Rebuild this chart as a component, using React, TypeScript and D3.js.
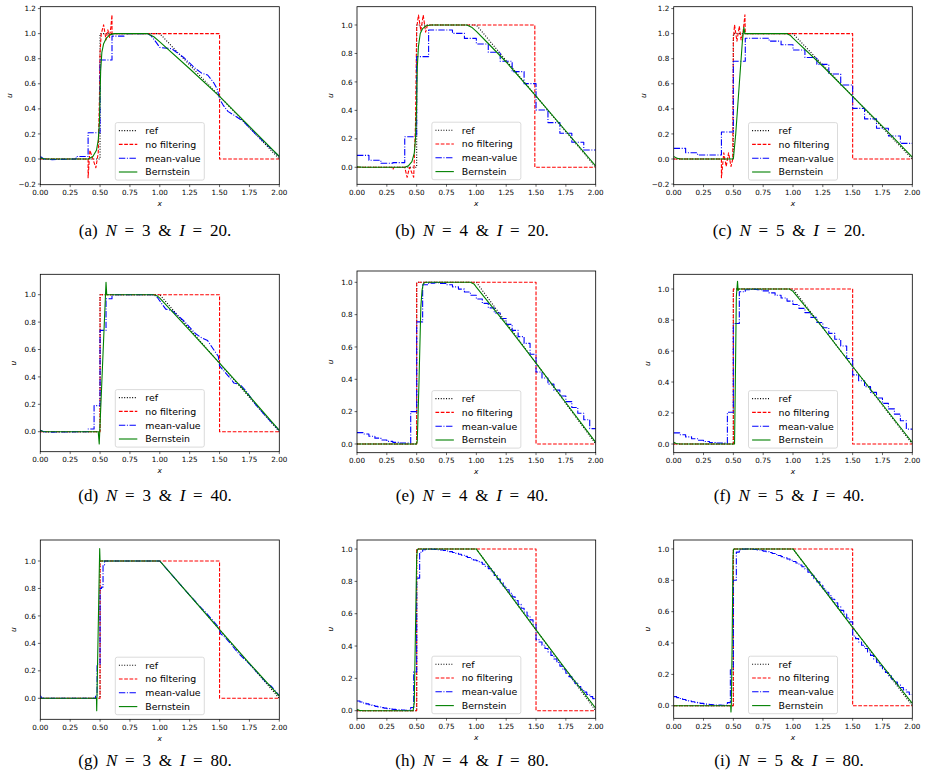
import React from "react";
import * as d3 from "d3";

type Pt = [number, number];

// Reference solution, shared by every panel
const refSolution: Pt[] = [[0, 0], [0.5, 0], [0.5, 1], [1.0, 1], [2.0, 0]];

// Unfiltered DG solutions
const noFilterA: Pt[] = [[0, 0], [0.40, 0], [0.40, -0.15], [0.415, 0.07], [0.44, 0.0], [0.465, -0.07], [0.485, 0.05], [0.495, 0.5], [0.50, 0.85], [0.51, 1.0], [0.53, 1.07], [0.55, 0.95], [0.565, 1.03], [0.58, 0.97], [0.59, 1.05], [0.60, 1.15], [0.60, 1.0], [1.50, 1.0], [1.50, 0], [2.0, 0]];
const noFilterB: Pt[] = [[0, 0], [0.29, 0], [0.30, -0.015], [0.31, 0], [0.40, 0], [0.42, -0.07], [0.44, 0.0], [0.475, -0.07], [0.49, 0.3], [0.50, 0.98], [0.515, 1.07], [0.535, 0.96], [0.555, 1.07], [0.575, 0.95], [0.59, 1.0], [1.49, 1.0], [1.49, 0], [2.0, 0]];
const noFilterC: Pt[] = [[0, 0], [0.40, 0], [0.40, -0.15], [0.42, 0.05], [0.44, -0.06], [0.46, 0.05], [0.48, -0.06], [0.495, 0.0], [0.50, 0.95], [0.51, 1.07], [0.53, 0.94], [0.55, 1.06], [0.565, 0.95], [0.58, 1.0], [0.597, 1.15], [0.60, 1.0], [1.50, 1.0], [1.50, 0], [2.0, 0]];
const noFilterSharp: Pt[] = [[0, 0], [0.5, 0], [0.5, 1], [1.5, 1], [1.5, 0], [2.0, 0]];

// Mean-value filtered solutions (N = 3 as point traces)
const meanValueA: Pt[] = [[0, 0.02], [0.03, 0.0], [0.1, -0.005], [0.3, 0.0], [0.3, 0.02], [0.4, 0.02], [0.4, 0.21], [0.5, 0.21], [0.5, 0.79], [0.6, 0.79], [0.6, 0.98], [0.7, 0.98], [0.7, 1.0], [0.9, 1.0], [0.93, 0.98], [0.97, 0.93], [1.0, 0.89], [1.1, 0.88], [1.2, 0.81], [1.3, 0.72], [1.35, 0.685], [1.4, 0.67], [1.45, 0.61], [1.48, 0.56], [1.5, 0.48], [1.53, 0.43], [1.57, 0.38], [1.62, 0.35], [1.7, 0.30], [1.8, 0.20], [1.9, 0.11], [2.0, 0.02]];
const meanValueD: Pt[] = [[0, 0.01], [0.03, 0.0], [0.1, -0.003], [0.4, 0.0], [0.4, 0.02], [0.45, 0.02], [0.45, 0.19], [0.5, 0.19], [0.5, 0.74], [0.55, 0.74], [0.55, 0.97], [0.6, 0.97], [0.6, 1.0], [0.95, 1.0], [0.98, 0.98], [1.02, 0.93], [1.05, 0.895], [1.1, 0.885], [1.2, 0.81], [1.3, 0.715], [1.35, 0.685], [1.4, 0.665], [1.45, 0.6], [1.49, 0.55], [1.5, 0.48], [1.55, 0.43], [1.6, 0.38], [1.62, 0.355], [1.67, 0.345], [1.72, 0.30], [1.8, 0.20], [1.9, 0.10], [2.0, 0.01]];
const meanValueG: Pt[] = [[0, 0.02], [0.015, 0.0], [0.4625, 0.0], [0.4625, 0.02], [0.475, 0.02], [0.475, 0.25], [0.5, 0.25], [0.5, 0.80], [0.5125, 0.80], [0.5125, 0.81], [0.525, 0.81], [0.525, 0.97], [0.5375, 0.97], [0.5375, 1.0], [1.0, 1.0], [1.2, 0.80], [1.35, 0.655], [1.38, 0.63], [1.45, 0.56], [1.49, 0.52], [1.51, 0.47], [1.55, 0.44], [1.6, 0.39], [1.65, 0.335], [1.75, 0.25], [1.85, 0.155], [1.9, 0.105], [1.93, 0.09], [2.0, 0.02]];

// Mean-value filtered solutions (N = 4, 5 as cell averages over [0, 2])
const meanValueB = [0.084, 0.049, 0.028, 0.033, 0.215, 0.778, 0.965, 0.965, 0.941, 0.906, 0.867, 0.808, 0.745, 0.672, 0.588, 0.403, 0.314, 0.239, 0.176, 0.122];
const meanValueC = [0.085, 0.050, 0.032, 0.032, 0.215, 0.780, 0.963, 0.963, 0.940, 0.912, 0.870, 0.810, 0.755, 0.678, 0.590, 0.404, 0.320, 0.245, 0.183, 0.125];
const meanValueE = [0.070, 0.062, 0.048, 0.036, 0.025, 0.016, 0.010, 0.006, 0.006, 0.200, 0.755, 0.985, 0.995, 0.998, 0.993, 0.985, 0.972, 0.958, 0.940, 0.920, 0.897, 0.870, 0.842, 0.810, 0.776, 0.740, 0.703, 0.664, 0.622, 0.555, 0.445, 0.408, 0.370, 0.333, 0.297, 0.262, 0.226, 0.190, 0.150, 0.095];
const meanValueF = [0.072, 0.060, 0.046, 0.034, 0.024, 0.016, 0.010, 0.007, 0.006, 0.205, 0.778, 0.982, 0.995, 0.998, 0.995, 0.988, 0.975, 0.960, 0.942, 0.922, 0.900, 0.875, 0.848, 0.817, 0.784, 0.750, 0.714, 0.676, 0.632, 0.552, 0.446, 0.408, 0.370, 0.333, 0.297, 0.262, 0.227, 0.193, 0.150, 0.096];
const meanValueH = [
  0.060, 0.054, 0.048, 0.042, 0.037, 0.032, 0.027, 0.023, 0.019, 0.016, 0.013, 0.010, 0.008, 0.006, 0.005, 0.004, 0.003, 0.003,
  0.020, 0.240, 0.820, 0.980, 0.996,
  0.999, 1.000, 0.999, 0.998, 0.996, 0.994, 0.991, 0.988, 0.984, 0.979, 0.974, 0.968, 0.962, 0.955, 0.948, 0.940, 0.932,
  0.928, 0.918, 0.906, 0.893, 0.879, 0.858, 0.836, 0.814, 0.792, 0.770, 0.748, 0.726, 0.704, 0.681, 0.658, 0.634, 0.610, 0.586, 0.562, 0.535,
  0.440, 0.425, 0.405, 0.385, 0.364, 0.342, 0.320, 0.298, 0.276, 0.254, 0.232, 0.211, 0.190, 0.170, 0.150, 0.132, 0.115, 0.100, 0.087, 0.075,
];
const meanValueI = [
  0.058, 0.052, 0.046, 0.040, 0.035, 0.030, 0.026, 0.022, 0.018, 0.015, 0.012, 0.010, 0.008, 0.006, 0.005, 0.004, 0.003, 0.003,
  0.020, 0.230, 0.800, 0.980, 0.995,
  0.999, 1.000, 0.999, 0.998, 0.996, 0.993, 0.990, 0.986, 0.982, 0.977, 0.971, 0.965, 0.958, 0.951, 0.944, 0.936, 0.928,
  0.920, 0.910, 0.898, 0.886, 0.872, 0.852, 0.832, 0.811, 0.790, 0.768, 0.746, 0.724, 0.702, 0.679, 0.656, 0.632, 0.608, 0.584, 0.560, 0.535,
  0.445, 0.428, 0.407, 0.386, 0.365, 0.343, 0.321, 0.299, 0.277, 0.255, 0.233, 0.212, 0.191, 0.171, 0.151, 0.133, 0.116, 0.101, 0.088, 0.072,
];

// Bernstein filtered solutions
const bernsteinA: Pt[] = [[0, 0.01], [0.02, 0.003], [0.05, 0], [0.40, 0], [0.44, 0.02], [0.47, 0.07], [0.485, 0.15], [0.495, 0.3], [0.50, 0.5], [0.505, 0.7], [0.515, 0.85], [0.53, 0.92], [0.55, 0.96], [0.58, 0.99], [0.62, 1.0], [0.90, 1.0], [0.95, 0.975], [1.0, 0.935], [1.25, 0.72], [1.5, 0.5], [1.75, 0.26], [2.0, 0.02]];
const bernsteinB: Pt[] = [[0, 0.003], [0.05, 0], [0.40, 0], [0.43, 0.01], [0.46, 0.04], [0.48, 0.1], [0.49, 0.2], [0.50, 0.45], [0.505, 0.7], [0.515, 0.85], [0.53, 0.94], [0.55, 0.975], [0.58, 0.995], [0.62, 1.0], [0.92, 1.0], [0.96, 0.985], [1.0, 0.955], [1.1, 0.87], [1.25, 0.74], [1.5, 0.5], [1.75, 0.255], [2.0, 0.01]];
const bernsteinC: Pt[] = [[0, 0.02], [0.03, 0.005], [0.06, 0], [0.50, 0], [0.52, 0.2], [0.55, 0.6], [0.575, 0.93], [0.588, 1.05], [0.597, 1.0], [0.95, 1.0], [0.98, 0.985], [1.0, 0.965], [1.25, 0.74], [1.5, 0.5], [1.75, 0.26], [2.0, 0.015]];
const bernsteinD: Pt[] = [[0, 0.01], [0.02, 0.002], [0.05, 0], [0.485, 0], [0.493, -0.09], [0.55, 1.09], [0.556, 1.0], [0.95, 1.0], [0.98, 0.99], [1.0, 0.975], [1.25, 0.74], [1.5, 0.5], [1.75, 0.26], [2.0, 0.01]];
const bernsteinE: Pt[] = [[0, 0], [0.50, 0], [0.505, 0.02], [0.51, 0.14], [0.52, 0.4], [0.535, 0.85], [0.545, 0.95], [0.555, 0.99], [0.57, 1.0], [0.95, 1.0], [0.98, 0.99], [1.0, 0.97], [1.25, 0.74], [1.5, 0.5], [1.75, 0.255], [2.0, 0.01]];
const bernsteinF: Pt[] = [[0, 0.012], [0.02, 0.003], [0.05, 0], [0.51, 0], [0.515, 0.3], [0.525, 0.95], [0.535, 1.05], [0.54, 0.99], [0.545, 1.0], [0.97, 1.0], [0.99, 0.99], [1.0, 0.985], [1.25, 0.75], [1.5, 0.5], [1.75, 0.255], [2.0, 0.01]];
const bernsteinG: Pt[] = [[0, 0], [0.47, 0], [0.472, -0.09], [0.497, 1.09], [0.50, 1.0], [1.0, 1.0], [1.25, 0.75], [1.5, 0.5], [1.75, 0.255], [2.0, 0.015]];
const bernsteinH: Pt[] = [[0, 0.008], [0.02, 0.002], [0.05, 0], [0.47, 0], [0.48, 0.05], [0.49, 0.5], [0.50, 0.95], [0.505, 0.99], [0.51, 1.0], [1.0, 1.0], [1.25, 0.75], [1.5, 0.5], [1.75, 0.255], [2.0, 0.015]];
const bernsteinI: Pt[] = [[0, 0], [0.478, 0], [0.48, -0.04], [0.483, 0], [0.49, 0.4], [0.497, 0.95], [0.502, 1.0], [1.0, 1.0], [1.25, 0.75], [1.5, 0.5], [1.75, 0.255], [2.0, 0.015]];

// Axis ticks
const xTickValues = [0, 0.25, 0.5, 0.75, 1.0, 1.25, 1.5, 1.75, 2.0];
const yTickValues = [-0.2, 0, 0.2, 0.4, 0.6, 0.8, 1.0, 1.2];

// Legend labels
const seriesLabels = ["ref", "no filtering", "mean-value", "Bernstein"];

// Subfigure parameters
const tags = ["a", "b", "c", "d", "e", "f", "g", "h", "i"];
const orders = [3, 4, 5, 3, 4, 5, 3, 4, 5];
const cellCounts = [20, 20, 20, 40, 40, 40, 80, 80, 80];
const yLimits: Pt[] = [
  [-0.205, 1.215], [-0.1195, 1.1286], [-0.205, 1.215],
  [-0.146, 1.149], [-0.054, 1.07], [-0.056, 1.095],
  [-0.153, 1.153], [-0.047, 1.056], [-0.08, 1.057],
];
const noFilterSeries = [noFilterA, noFilterB, noFilterC, noFilterSharp, noFilterSharp, noFilterSharp, noFilterSharp, noFilterSharp, noFilterSharp];
const meanValueSeries: (Pt[] | number[])[] = [meanValueA, meanValueB, meanValueC, meanValueD, meanValueE, meanValueF, meanValueG, meanValueH, meanValueI];
const bernsteinSeries = [bernsteinA, bernsteinB, bernsteinC, bernsteinD, bernsteinE, bernsteinF, bernsteinG, bernsteinH, bernsteinI];

// Axes boxes on the page (left, right, top, bottom)
const axesBoxes = [
  { l: 40.3, r: 279.3, t: 6.7, b: 184.7 },
  { l: 357, r: 595.7, t: 6.7, b: 184.3 },
  { l: 673.7, r: 912.3, t: 6.7, b: 184.7 },
  { l: 40.3, r: 279.3, t: 274.3, b: 451.7 },
  { l: 357, r: 595.7, t: 271, b: 452.7 },
  { l: 673.7, r: 912.3, t: 274.3, b: 452.7 },
  { l: 40.3, r: 279.3, t: 540, b: 719.3 },
  { l: 357, r: 595.7, t: 540, b: 718.3 },
  { l: 673.7, r: 912.3, t: 540, b: 718.3 },
];
const captionX = [155, 472, 789];
const captionY = [236, 500.5, 765.5];

const styles = [
  { stroke: "#000000", dash: "1,1.65" },
  { stroke: "#ff0000", dash: "3.7,1.6" },
  { stroke: "#0000ff", dash: "6.4,1.6,1,1.6" },
  { stroke: "#008000", dash: undefined as string | undefined },
];

const LW = 1.1;
const tickFont = "'DejaVu Sans', sans-serif";

function Panel({ k }: { k: number }) {
  const box = axesBoxes[k];
  const [y0, y1] = yLimits[k];
  const x = d3.scaleLinear().domain([0, 2]).range([box.l, box.r]);
  const y = d3.scaleLinear().domain([y0, y1]).range([box.b, box.t]);
  const line = d3.line<Pt>().x((d) => x(d[0])).y((d) => y(d[1]));
  const stepLine = d3.line<Pt>().curve(d3.curveStepAfter).x((d) => x(d[0])).y((d) => y(d[1]));

  const mv = meanValueSeries[k];
  let mvPath: string;
  if (typeof mv[0] === "number") {
    const cells = mv as number[];
    const h = 2 / cells.length;
    const pts: Pt[] = cells.map((v, j) => [j * h, v] as Pt);
    pts.push([2, cells[cells.length - 1]]);
    mvPath = stepLine(pts) || "";
  } else {
    mvPath = line(mv as Pt[]) || "";
  }
  const paths = [
    line(refSolution) || "",
    line(noFilterSeries[k]) || "",
    mvPath,
    line(bernsteinSeries[k]) || "",
  ];

  const yTicks = yTickValues.filter((v) => v >= y0 - 1e-9 && v <= y1 + 1e-9);
  const fmtY = d3.format(".1f");
  const fmtX = d3.format(".2f");
  const hasNeg = yTicks.some((v) => v < 0);
  const clipId = `clip-${tags[k]}`;

  const lgW = 89, lgH = 57.5;
  const lgX = (box.l + box.r) / 2 - lgW / 2;
  const lgY = box.b - 4.6 - lgH;

  const col = k % 3, row = Math.floor(k / 3);

  return (
    <g>
      <defs>
        <clipPath id={clipId}>
          <rect x={box.l} y={box.t} width={box.r - box.l} height={box.b - box.t} />
        </clipPath>
      </defs>
      <g clipPath={`url(#${clipId})`}>
        {paths.map((d, j) => (
          <path key={j} d={d} fill="none" stroke={styles[j].stroke} strokeWidth={LW}
            strokeDasharray={styles[j].dash} strokeLinejoin="round" />
        ))}
      </g>
      <rect x={box.l} y={box.t} width={box.r - box.l} height={box.b - box.t} fill="none" stroke="#000" strokeWidth={0.8} />
      {xTickValues.map((v) => (
        <g key={`x${v}`}>
          <line x1={x(v)} x2={x(v)} y1={box.b} y2={box.b + 2.4} stroke="#000" strokeWidth={0.6} />
          <text x={x(v)} y={box.b + 10.2} fontSize={7.2} fontFamily={tickFont} textAnchor="middle" fill="#000">{fmtX(v)}</text>
        </g>
      ))}
      {yTicks.map((v) => (
        <g key={`y${v}`}>
          <line x1={box.l - 2.4} x2={box.l} y1={y(v)} y2={y(v)} stroke="#000" strokeWidth={0.6} />
          <text x={box.l - 4.4} y={y(v) + 2.6} fontSize={7.2} fontFamily={tickFont} textAnchor="end" fill="#000">{fmtY(v)}</text>
        </g>
      ))}
      <text x={(box.l + box.r) / 2} y={box.b + 21.5} fontSize={7.5} fontFamily={tickFont} fontStyle="italic" textAnchor="middle">x</text>
      <text transform={`translate(${box.l - (hasNeg ? 28 : 24)},${(box.t + box.b) / 2}) rotate(-90)`} fontSize={7.5}
        fontFamily={tickFont} fontStyle="italic" textAnchor="middle">u</text>

      <rect x={lgX} y={lgY} width={lgW} height={lgH} rx={2} fill="#ffffff" fillOpacity={0.8} stroke="#cccccc" strokeWidth={0.7} />
      {seriesLabels.map((s, j) => {
        const cy = lgY + 8 + j * 13.8;
        return (
          <g key={s}>
            <line x1={lgX + 3.6} x2={lgX + 22} y1={cy} y2={cy} stroke={styles[j].stroke} strokeWidth={LW} strokeDasharray={styles[j].dash} />
            <text x={lgX + 30} y={cy + 3.3} fontSize={9.4} fontFamily={tickFont} fill="#000">{s}</text>
          </g>
        );
      })}

      <text x={captionX[col]} y={captionY[row]} fontSize={17} fontFamily="'Liberation Serif', serif" textAnchor="middle"
        fill="#000" style={{ wordSpacing: "3.5px" }}>
        ({tags[k]}) <tspan fontStyle="italic">N</tspan> = {orders[k]} &amp; <tspan fontStyle="italic">I</tspan> = {cellCounts[k]}.
      </text>
    </g>
  );
}

export default function App() {
  return (
    <svg width={927} height={783} viewBox="0 0 927 783"
      style={{ position: "absolute", left: 0, top: 0, background: "#fff" }}>
      <rect width={927} height={783} fill="#fff" />
      {tags.map((t, k) => <Panel key={t} k={k} />)}
    </svg>
  );
}
